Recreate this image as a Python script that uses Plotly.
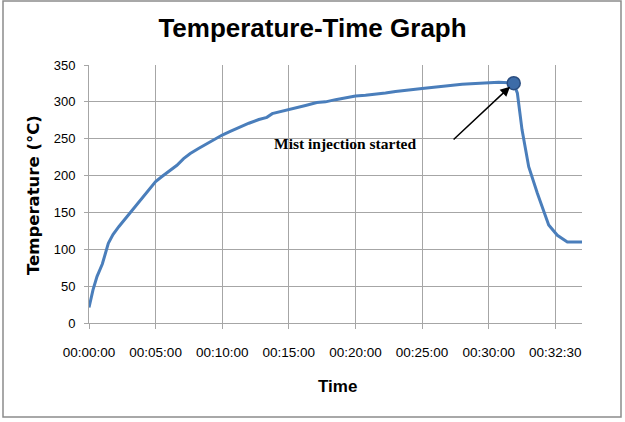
import plotly.graph_objects as go

# x position measured in category-label intervals (one interval between consecutive tick labels)
time_pos = [0, 0.06, 0.12, 0.2, 0.29, 0.36, 0.45, 0.55, 0.62, 0.7, 0.8, 0.9, 1.0, 1.1, 1.2, 1.32,
            1.42, 1.52, 1.65, 1.8, 1.9, 2.0, 2.12, 2.27, 2.4, 2.55, 2.67, 2.75, 2.9, 3.0, 3.1, 3.25,
            3.42, 3.55, 3.7, 3.85, 4.0, 4.15, 4.3, 4.45, 4.6, 4.75, 4.9, 5.0, 5.2, 5.4, 5.6, 5.8,
            6.0, 6.15, 6.3, 6.375, 6.43, 6.5, 6.6, 6.73, 6.9, 7.03, 7.18, 7.4]
temperature = [21, 45, 63, 80, 108, 120, 131, 142, 150, 160, 171, 182, 192, 199, 206, 214,
               223, 230, 237, 245, 250, 255, 260, 266, 271, 276, 279, 284, 287, 289, 292, 295,
               299, 300, 303, 306, 308, 309, 310, 312, 314, 315, 317, 318, 320, 323, 324, 325,
               326, 326.5, 326, 325.3, 311.7, 262, 212, 176, 133, 119, 110, 110]

tick_pos = [0, 1, 2, 3, 4, 5, 6, 7]
tick_labels = ["00:00:00", "00:05:00", "00:10:00", "00:15:00", "00:20:00", "00:25:00",
               "00:30:00", "00:32:30"]
y_ticks = [0, 50, 100, 150, 200, 250, 300, 350]

injection_index = 51
label_pos = (3.85, 243)
arrow_tail = (5.45, 247)

fig = go.Figure()
fig.add_trace(go.Scatter(x=time_pos, y=temperature, mode="lines",
                         line=dict(color="#4A7EBB", width=3), showlegend=False, hoverinfo="skip"))
fig.add_trace(go.Scatter(x=[time_pos[injection_index]], y=[temperature[injection_index]], mode="markers",
                         marker=dict(size=13, color="#3D6CA8", line=dict(color="#2B4E80", width=1.5)),
                         showlegend=False))

grid = "#A6A6A6"
fig.update_layout(
    width=625, height=422,
    margin=dict(l=89, r=43, t=65, b=99),
    paper_bgcolor="white", plot_bgcolor="white",
    title=dict(text="<b>Temperature-Time Graph</b>", x=0.5, xanchor="center", y=1 - 28 / 422,
               yanchor="middle", font=dict(family="Liberation Sans, Arial", size=26, color="black")),
    xaxis=dict(range=[0, 7.4], tickmode="array", tickvals=tick_pos, ticktext=tick_labels,
               showgrid=True, gridcolor=grid, gridwidth=1, zeroline=False,
               showline=True, linecolor=grid, linewidth=1,
               ticks="outside", ticklen=5, tickcolor=grid,
               tickfont=dict(family="Liberation Sans, Arial", size=13.5, color="black"),
               ticklabelstandoff=12),
    yaxis=dict(range=[0, 350], tickmode="array", tickvals=y_ticks,
               showgrid=True, gridcolor=grid, gridwidth=1, zeroline=False,
               showline=True, linecolor=grid, linewidth=1,
               ticks="outside", ticklen=4, tickcolor=grid,
               tickfont=dict(family="Liberation Sans, Arial", size=13, color="black"),
               ticklabelstandoff=6),
    shapes=[dict(type="rect", xref="paper", yref="paper",
                 x0=(3 - 89) / 493, x1=(621 - 89) / 493, y0=(323 - 417) / 258, y1=(323 - 1) / 258,
                 line=dict(color="#8C8C8C", width=1.5), fillcolor="rgba(0,0,0,0)", layer="below")],
    annotations=[
        dict(text="<b>Temperature (°C)</b>", xref="paper", yref="paper", x=(33 - 89) / 493, y=(323 - 195) / 258,
             xanchor="center", yanchor="middle", textangle=-90, showarrow=False,
             font=dict(family="DejaVu Sans", size=16.5, color="black")),
        dict(text="<b>Time</b>", xref="paper", yref="paper", x=(337 - 89) / 493, y=(323 - 386) / 258,
             xanchor="center", yanchor="middle", showarrow=False,
             font=dict(family="Liberation Sans, Arial", size=17, color="black")),
        dict(text="<b>Mist injection started</b>", x=label_pos[0], y=label_pos[1], xref="x", yref="y",
             xanchor="center", yanchor="middle", showarrow=False,
             font=dict(family="Liberation Serif, Times New Roman", size=15.5, color="black")),
        dict(text="", x=time_pos[injection_index], y=temperature[injection_index], xref="x", yref="y",
             ax=arrow_tail[0], ay=arrow_tail[1], axref="x", ayref="y",
             showarrow=True, arrowhead=2, arrowsize=1.3, arrowwidth=1.5, arrowcolor="black", standoff=5),
    ],
)

fig.write_html("out.html")
